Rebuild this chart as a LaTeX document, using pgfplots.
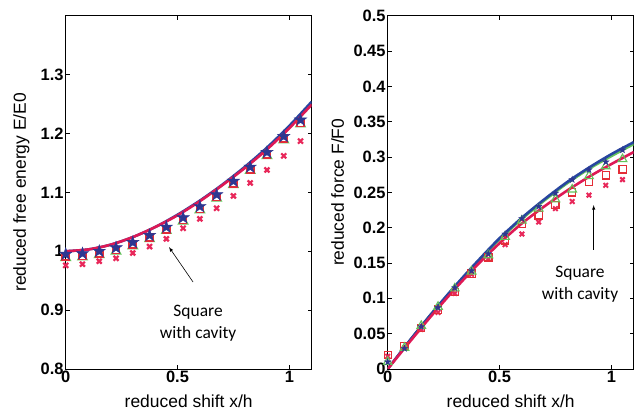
\documentclass[border=0pt]{standalone}
\usepackage{fontspec}
\setmainfont{Liberation Sans}[BoldFont={Liberation Sans Bold}]
\newfontfamily\calibri{Carlito}
\newfontfamily\tickfont{Liberation Sans Bold}
\usepackage{pgfplots}
\pgfplotsset{compat=1.18}
\usetikzlibrary{plotmarks}

\definecolor{bluel}{RGB}{40,70,160}
\definecolor{starblue}{RGB}{45,55,145}
\definecolor{redl}{RGB}{222,25,85}
\definecolor{crossc}{RGB}{232,40,90}
\definecolor{sqc}{RGB}{228,45,55}
\definecolor{trig}{RGB}{100,195,90}

\pgfdeclareplotmark{pentagram}{%
  \pgfpathmoveto{\pgfpointpolar{90}{\pgfplotmarksize}}%
  \pgfpathlineto{\pgfpointpolar{234}{\pgfplotmarksize}}%
  \pgfpathlineto{\pgfpointpolar{18}{\pgfplotmarksize}}%
  \pgfpathlineto{\pgfpointpolar{162}{\pgfplotmarksize}}%
  \pgfpathlineto{\pgfpointpolar{306}{\pgfplotmarksize}}%
  \pgfpathclose
  \pgfusepathqfillstroke}

\pgfplotsset{
  myax/.style={
    scale only axis, width=246bp, height=353.3bp,
    anchor=south west,
    xmin=0, xmax=1.1,
    tick align=inside, major tick length=4bp,
    axis line style={line width=0.7bp},
    every tick/.style={black, line width=0.6bp},
    /pgf/number format/assume math mode=true,
    tick label style={font=\tickfont\fontsize{16.5}{16.5}\selectfont, inner sep=2bp},
    label style={font=\fontsize{17.5}{17.5}\selectfont},
    xtick={0,0.5,1}, xticklabels={0,0.5,1},
    xlabel={reduced shift x/h},
    xlabel style={at={(axis description cs:0.5,-0.0926)}, anchor=center},
    clip=true,
  }
}

\pgfplotstableread{
x     star   tri    sq     cross
0     0.995  0.989  0.991  0.976
0.075 0.996  0.990  0.992  0.978
0.15  1.000  0.994  0.996  0.983
0.225 1.006  1.000  1.002  0.988
0.3   1.015  1.009  1.011  0.997
0.375 1.027  1.021  1.023  1.008
0.45  1.041  1.035  1.037  1.021
0.525 1.057  1.051  1.053  1.039
0.6   1.076  1.070  1.072  1.055
0.675 1.096  1.090  1.092  1.073
0.75  1.119  1.113  1.115  1.094
0.825 1.143  1.137  1.139  1.116
0.9   1.168  1.162  1.164  1.138
0.975 1.195  1.189  1.191  1.162
1.05  1.223  1.216  1.218  1.187
}\Emarks

\pgfplotstableread{
x    blue   red
0    1.000  1.000
0.1  1.003  1.003
0.2  1.011  1.011
0.3  1.024  1.024
0.4  1.041  1.041
0.5  1.062  1.061
0.6  1.086  1.085
0.7  1.113  1.112
0.8  1.143  1.141
0.9  1.176  1.173
1.0  1.213  1.209
1.1  1.254  1.249
}\Elines

\pgfplotstableread{
x     star   tri    sq     cross
0     0.010  0.010  0.020  0.018
0.075 0.029  0.030  0.032  0.030
0.15  0.060  0.061  0.058  0.056
0.225 0.087  0.088  0.084  0.080
0.3   0.115  0.114  0.109  0.107
0.375 0.139  0.138  0.135  0.134
0.45  0.163  0.161  0.158  0.156
0.525 0.191  0.187  0.182  0.176
0.6   0.213  0.210  0.205  0.191
0.675 0.230  0.227  0.2175 0.208
0.75  0.249  0.240  0.232  0.227
0.825 0.268  0.254  0.250  0.237
0.9   0.282  0.273  0.265  0.246
0.975 0.293  0.287  0.274  0.260
1.05  0.310  0.297  0.2825 0.268
}\Fmarks

\pgfplotstableread{
x    blue   green  red
0    0.000  0.000  0.000
0.1  0.041  0.041  0.039
0.2  0.080  0.080  0.077
0.3  0.117  0.116  0.113
0.4  0.152  0.151  0.147
0.5  0.185  0.183  0.178
0.6  0.214  0.212  0.206
0.7  0.240  0.238  0.230
0.8  0.264  0.262  0.252
0.9  0.285  0.283  0.272
1.0  0.304  0.301  0.290
1.1  0.321  0.318  0.307
}\Flines

\begin{document}
\begin{tikzpicture}
\useasboundingbox (0,0) rectangle (636bp,412bp);

% ---------------- left panel ----------------
\begin{axis}[myax, at={(65.7bp,43bp)},
  ymin=0.8, ymax=1.4,
  ytick={0.8,0.9,1,1.1,1.2,1.3}, yticklabels={0.8,0.9,1,1.1,1.2,1.3},
  ylabel={reduced free energy E/E0},
  ylabel style={at={(axis description cs:-0.18,0.5)}, anchor=center},
]
\addplot[only marks, mark=x, mark size=3.5bp, draw=crossc, line width=2.2bp] table[x=x,y=cross] {\Emarks};
\addplot[only marks, mark=triangle, mark size=5.5bp, draw=trig, line width=1.2bp] table[x=x,y=tri] {\Emarks};
\addplot[only marks, mark=square, mark size=3.5bp, draw=sqc, line width=1.6bp] table[x=x,y=sq] {\Emarks};
\addplot[only marks, mark=pentagram, mark size=6.5bp, draw=starblue, fill=starblue, line width=0.4bp] table[x=x,y=star] {\Emarks};
\addplot[smooth, no marks, draw=bluel, line width=2.6bp] table[x=x,y=blue] {\Elines};
\addplot[smooth, no marks, draw=redl, line width=2.6bp] table[x=x,y=red] {\Elines};
\draw[-latex, line width=0.6bp] (axis cs:0.5695,0.9477) -- (axis cs:0.462,1.007);
\node[font=\calibri\fontsize{17.5}{21.5}\selectfont, align=center] at (axis cs:0.592,0.878) {Square\\with cavity};
\end{axis}

% ---------------- right panel ----------------
\begin{axis}[myax, at={(387.7bp,43bp)},
  ymin=0, ymax=0.5,
  ytick={0,0.05,0.1,0.15,0.2,0.25,0.3,0.35,0.4,0.45,0.5},
  yticklabels={0,0.05,0.1,0.15,0.2,0.25,0.3,0.35,0.4,0.45,0.5},
  ylabel={reduced force F/F0},
  ylabel style={at={(axis description cs:-0.2036,0.5)}, anchor=center},
]
\addplot[only marks, mark=x, mark size=3.2bp, draw=crossc, line width=2bp] table[x=x,y=cross] {\Fmarks};
\addplot[only marks, mark=square, mark size=3.6bp, draw=sqc, line width=1.2bp] table[x=x,y=sq] {\Fmarks};
\addplot[only marks, mark=triangle, mark size=5bp, draw=trig, line width=1.1bp] table[x=x,y=tri] {\Fmarks};
\addplot[smooth, no marks, draw=trig, line width=2.2bp] table[x=x,y=green] {\Flines};
\addplot[smooth, no marks, draw=bluel, line width=2.6bp] table[x=x,y=blue] {\Flines};
\addplot[smooth, no marks, draw=redl, line width=2.6bp] table[x=x,y=red] {\Flines};
\addplot[only marks, mark=pentagram, mark size=3.5bp, draw=starblue, fill=starblue, line width=0.3bp] table[x=x,y=star] {\Fmarks};
\draw[-latex, line width=0.6bp] (axis cs:0.921,0.169) -- (axis cs:0.921,0.232);
\node[font=\calibri\fontsize{17.5}{21.5}\selectfont, align=center] at (axis cs:0.86,0.120) {Square\\with cavity};
\end{axis}
\end{tikzpicture}
\end{document}
